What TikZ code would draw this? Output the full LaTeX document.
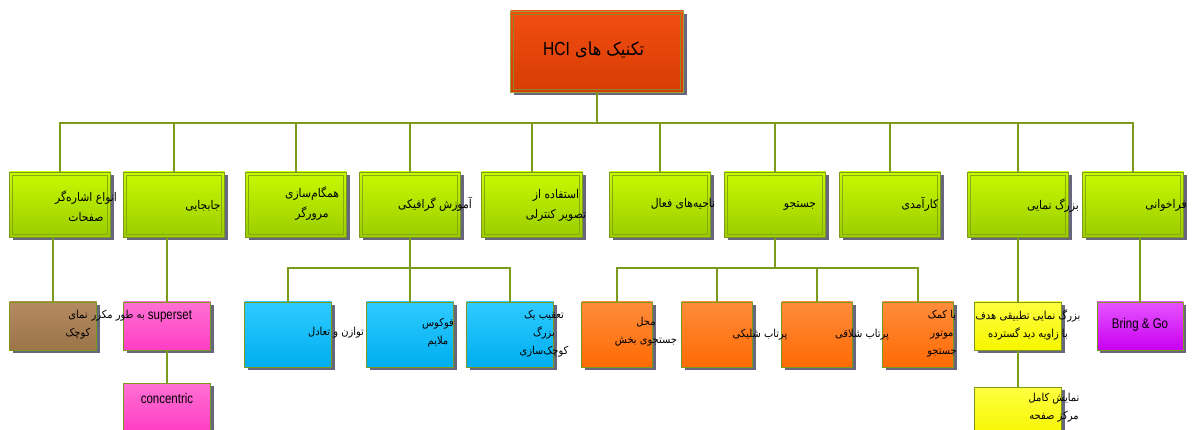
\documentclass[tikz,border=0pt]{standalone}
\usepackage{fontspec}
\setmainfont{Liberation Sans}[FakeStretch=0.82]
\newfontfamily\fa[Script=Arabic,FakeStretch=0.9]{DejaVu Sans}
\TeXXeTstate=1
\usetikzlibrary{shadows}

\definecolor{wire}{HTML}{7C9A1C}
\definecolor{rim}{HTML}{7E9A1E}
\definecolor{shadowgrey}{HTML}{66667C}
\definecolor{rootrim}{HTML}{9AA23A}
\definecolor{rootinner}{HTML}{8C8A28}
\definecolor{roottop}{HTML}{F24E12}
\definecolor{rootbot}{HTML}{D63C02}
\definecolor{limetop}{HTML}{C8FA00}
\definecolor{limebot}{HTML}{9ACC00}
\definecolor{limeinner}{HTML}{88A812}
\definecolor{browntop}{HTML}{B48A62}
\definecolor{brownbot}{HTML}{9C7448}
\definecolor{pinktop}{HTML}{FF70D4}
\definecolor{pinkbot}{HTML}{FF3EC4}
\definecolor{bluetop}{HTML}{2ECBFF}
\definecolor{bluebot}{HTML}{00AEEF}
\definecolor{orangetop}{HTML}{FF8C3A}
\definecolor{orangebot}{HTML}{FF6A04}
\definecolor{yellowtop}{HTML}{FFFF40}
\definecolor{yellowbot}{HTML}{F6F600}
\definecolor{violettop}{HTML}{E654FF}
\definecolor{violetbot}{HTML}{C800F0}

% right-to-left Persian run
\newcommand{\fatext}[1]{{\fa\beginR #1\endR}}

\tikzset{
  wire/.style={draw=wire,line width=2pt},
  card/.style={draw=rim,line width=0.8pt,inner sep=0pt,
    drop shadow={shadow xshift=3pt,shadow yshift=-3pt,fill=shadowgrey,opacity=1}},
  inner rim/.style={path picture={\draw[draw=#1,line width=0.8pt]
    ([shift={(3pt,-3pt)}]path picture bounding box.north west) rectangle
    ([shift={(-3pt,3pt)}]path picture bounding box.south east);}},
  rootbox/.style={card,draw=rootrim,top color=roottop,bottom color=rootbot,
    inner rim=rootinner,minimum width=173pt,minimum height=81pt},
  catbox/.style={card,top color=limetop,bottom color=limebot,inner rim=limeinner,
    minimum width=101pt,minimum height=65pt},
  shortleaf/.style={card,minimum width=87pt,minimum height=48pt},
  tallleaf/.style={card,minimum height=65pt},
  brownbox/.style={shortleaf,top color=browntop,bottom color=brownbot},
  pinkbox/.style={shortleaf,top color=pinktop,bottom color=pinkbot},
  yellowbox/.style={shortleaf,top color=yellowtop,bottom color=yellowbot},
  violetbox/.style={shortleaf,minimum width=86pt,top color=violettop,bottom color=violetbot},
  bluebox/.style={tallleaf,minimum width=87pt,top color=bluetop,bottom color=bluebot},
  orangebox/.style={tallleaf,minimum width=71pt,top color=orangetop,bottom color=orangebot},
  cattext/.style={inner sep=0pt,align=center,font=\fontsize{12}{20}\selectfont},
  leaftext/.style={inner sep=0pt,align=center,font=\fontsize{11}{18}\selectfont},
  entext/.style={inner sep=0pt,font=\fontsize{14}{16}\selectfont},
}

\begin{document}
\begin{tikzpicture}[x=1pt,y=-1pt]
\useasboundingbox (0,0) rectangle (1197,430);
\clip (0,0) rectangle (1197,430);

% root
\node[rootbox] (root) at (597,51.5) {};
\node[inner sep=0pt,anchor=west,font=\fontsize{19}{22}\selectfont] (roott) at (543,50)
  {\fatext{\fontsize{18}{22}\selectfont تکنیک های \beginL{\rmfamily\fontsize{19}{22}\selectfont HCI}\endL}};

% categories
\node[catbox] (c1) at (60,204.5) {};
\node[catbox] (c2) at (174,204.5) {};
\node[catbox] (c3) at (296,204.5) {};
\node[catbox] (c4) at (410,204.5) {};
\node[catbox] (c5) at (532,204.5) {};
\node[catbox] (c6) at (660,204.5) {};
\node[catbox] (c7) at (775,204.5) {};
\node[catbox] (c8) at (890,204.5) {};
\node[catbox] (c9) at (1018,204.5) {};
\node[catbox] (c10) at (1133,204.5) {};

\node[cattext] (c1t) at (86,206) {\fatext{انواع اشاره‌گر}\\\fatext{صفحات}};
\node[cattext] (c2t) at (203,206) {\fatext{جابجایی}};
\node[cattext] (c3t) at (312,204) {\fatext{همگام‌سازی}\\\fatext{مرورگر}};
\node[cattext] (c4t) at (435,204) {\fatext{آموزش گرافیکی}};
\node[cattext] (c5t) at (556,205) {\fatext{استفاده از}\\\fatext{تصویر کنترلی}};
\node[cattext] (c6t) at (683,204) {\fatext{ناحیه‌های فعال}};
\node[cattext] (c7t) at (800,206) {\fatext{جستجو}};
\node[cattext] (c8t) at (920,204) {\fatext{کارآمدی}};
\node[cattext] (c9t) at (1053,206) {\fatext{بزرگ نمایی}};
\node[cattext] (c10t) at (1166,205) {\fatext{فراخوانی}};

% leaves
\node[brownbox] (br) at (53,326) {};
\node[pinkbox] (pk) at (167,326) {};
\node[pinkbox] (cc) at (167,407) {};
\node[bluebox] (bl1) at (288,334.5) {};
\node[bluebox] (bl2) at (410,334.5) {};
\node[bluebox] (bl3) at (510,334.5) {};
\node[orangebox] (or1) at (617,334.5) {};
\node[orangebox] (or2) at (717,334.5) {};
\node[orangebox] (or3) at (817,334.5) {};
\node[orangebox] (or4) at (918,334.5) {};
\node[yellowbox] (ye1) at (1018,326) {};
\node[yellowbox] (ye2) at (1018,411) {};
\node[violetbox] (vi) at (1140,326) {};

\node[leaftext] (brt) at (78,325) {\fatext{نمای}\\\fatext{کوچک}};
\node[leaftext,anchor=east] (pkp) at (145,316) {\fatext{به طور مکرر}};
\node[entext] (pkt) at (170,316) {superset};
\node[entext] (cct) at (167,398) {concentric};
\node[leaftext] (bl1t) at (336,333) {\fatext{توازن و تعادل}};
\node[leaftext] (bl2t) at (438,333) {\fatext{فوکوس}\\\fatext{ملایم}};
\node[leaftext] (bl3t) at (544,334) {\fatext{تعقیب یک}\\\fatext{بزرگ}\\\fatext{کوچک‌سازی}};
\node[leaftext] (or1t) at (646,332) {\fatext{محل}\\\fatext{جستجوی بخش}};
\node[leaftext] (or2t) at (760,335) {\fatext{پرتاب شلیکی}};
\node[leaftext] (or3t) at (862,335) {\fatext{پرتاب شلاقی}};
\node[leaftext] (or4t) at (942,334) {\fatext{با کمک}\\\fatext{موتور}\\\fatext{جستجو}};
\node[leaftext] (ye1t) at (1028,325) {\fatext{بزرگ نمایی تطبیقی هدف}\\\fatext{با زاویه دید گسترده}};
\node[leaftext] (ye2t) at (1054,408) {\fatext{نمایش کامل}\\\fatext{مرکز صفحه}};
\node[entext] (vit) at (1140,325) {Bring \& Go};

% connectors: root to categories over a shared bus
\coordinate (bus) at (0,123);
\foreach \c in {c1,c2,c3,c4,c5,c6,c7,c8,c9,c10}
  \draw[wire] (root.south) |- (bus -| \c.north) -- (\c.north);

% category to leaves
\coordinate (lowbus) at (0,268);
\foreach \l in {bl1,bl2,bl3}
  \draw[wire] (c4.south) |- (lowbus -| \l.north) -- (\l.north);
\foreach \l in {or1,or2,or3,or4}
  \draw[wire] (c7.south) |- (lowbus -| \l.north) -- (\l.north);
\draw[wire] (c1.south -| br.north) -- (br.north);
\draw[wire] (c2.south -| pk.north) -- (pk.north);
\draw[wire] (pk.south) -- (cc.north);
\draw[wire] (c9.south -| ye1.north) -- (ye1.north);
\draw[wire] (ye1.south) -- (ye2.north);
\draw[wire] (c10.south -| vi.north) -- (vi.north);
\end{tikzpicture}
\end{document}
